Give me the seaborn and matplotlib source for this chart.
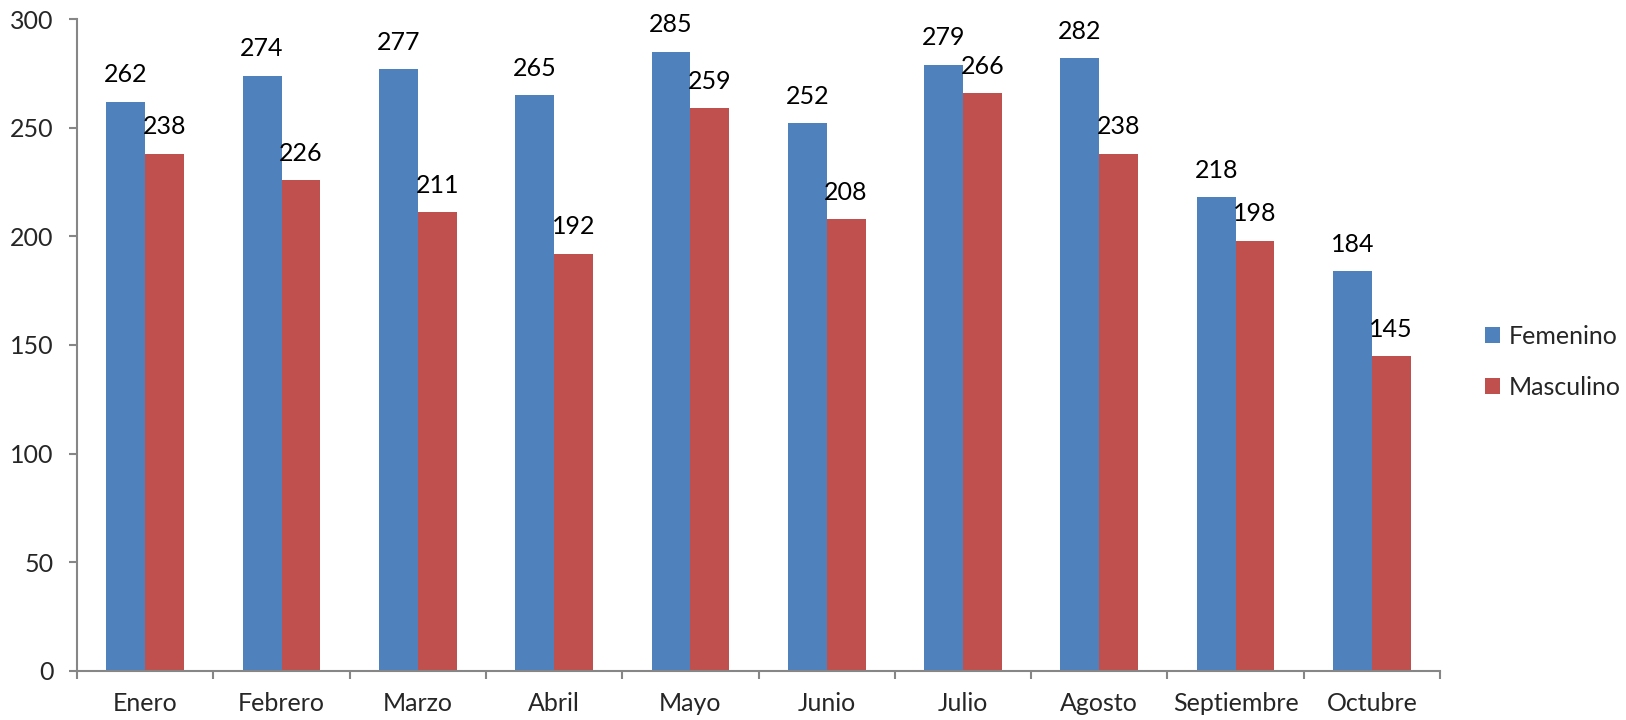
import matplotlib
matplotlib.use('Agg')
import numpy as np
import pandas as pd
import matplotlib.pyplot as plt
import seaborn as sns

meses = ['Enero', 'Febrero', 'Marzo', 'Abril', 'Mayo', 'Junio',
         'Julio', 'Agosto', 'Septiembre', 'Octubre']
femenino = [262, 274, 277, 265, 285, 252, 279, 282, 218, 184]
masculino = [238, 226, 211, 192, 259, 208, 266, 238, 198, 145]
series = ['Femenino', 'Masculino']
colores = ['#4F81BD', '#C0504D']
y_ticks = [0, 50, 100, 150, 200, 250, 300]

sns.set_style("white")
plt.rcParams['font.family'] = ['Lato', 'DejaVu Sans']
fs = 18

df = pd.DataFrame({
    'mes': meses * 2,
    'valor': femenino + masculino,
    'sexo': [series[0]] * len(meses) + [series[1]] * len(meses),
})

fig = plt.figure(figsize=(16.26, 7.2), dpi=100)
ax = fig.add_axes([0.0474, 0.0681, 0.8382, 0.9055])

sns.barplot(data=df, x='mes', y='valor', hue='sexo', palette=colores,
            width=0.57, gap=0, ax=ax, saturation=1, edgecolor='none')

for cont in ax.containers:
    ax.bar_label(cont, padding=11, fontsize=fs, color='black')

gris = '#868686'
ax.set_ylim(0, 300)
ax.set_yticks(y_ticks)
ax.set_xlim(-0.5, len(meses) - 0.5)
ax.set_xlabel('')
ax.set_ylabel('')
for s in ['top', 'right']:
    ax.spines[s].set_visible(False)
for s in ['left', 'bottom']:
    ax.spines[s].set_color(gris)
    ax.spines[s].set_linewidth(1.5)

ax.tick_params(axis='y', length=6, width=1.5, color=gris, pad=11, labelsize=fs, direction='out', left=True)
ax.tick_params(axis='x', which='major', length=0, pad=15, labelsize=fs)
ax.set_xticks(np.arange(-0.5, len(meses), 1), minor=True)
ax.tick_params(axis='x', which='minor', length=6, width=1.5, color=gris, direction='out', bottom=True)

ax.legend(loc='center left', bbox_to_anchor=(1.033, 0.474), frameon=False,
          fontsize=fs, handlelength=0.6, handleheight=0.6, handletextpad=0.35,
          labelspacing=1.1, borderpad=0, borderaxespad=0)

plt.savefig('out.png', dpi=100)
plt.close()
